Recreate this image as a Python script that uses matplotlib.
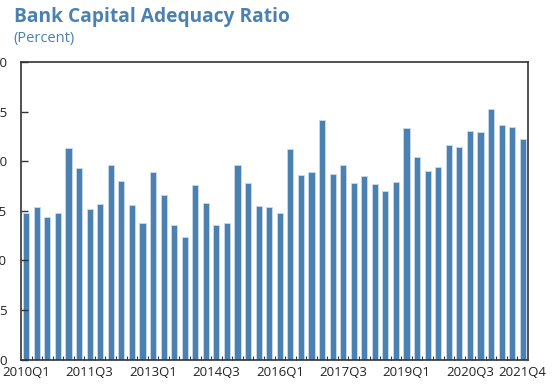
import numpy as np
import matplotlib
matplotlib.use("Agg")
import matplotlib.pyplot as plt
from matplotlib.ticker import FixedLocator

# quarterly capital adequacy ratio, 2010Q1 - 2021Q4
years = list(range(2010, 2022))
quarters = [f"{y}Q{q}" for y in years for q in range(1, 5)]
ratio = [14.8, 15.4, 14.4, 14.8, 21.3, 19.3, 15.2, 15.7, 19.6, 18.0, 15.6, 13.8,
         18.9, 16.6, 13.6, 12.4, 17.6, 15.8, 13.6, 13.8, 19.6, 17.8, 15.5, 15.4,
         14.8, 21.2, 18.6, 18.9, 24.2, 18.7, 19.6, 17.8, 18.5, 17.7, 17.0, 17.9,
         23.3, 20.4, 19.0, 19.4, 21.6, 21.4, 23.0, 22.9, 25.3, 23.6, 23.4, 22.2]
label_idx = [0, 6, 12, 18, 24, 30, 36, 42, 47]
yticks = [0, 5, 10, 15, 20, 25, 30]

blue = "#4a81b1"
plt.rcParams['font.family'] = ['Open Sans', 'DejaVu Sans']

fig = plt.figure(figsize=(5.55, 3.89), dpi=100)
ax = fig.add_axes([0.0378, 0.0758, 0.9136, 0.7648])

x = np.arange(len(ratio))
ax.bar(x, ratio, width=0.58, color=blue, edgecolor="#c9dbec", linewidth=0.6)

ax.set_xlim(-0.5, len(ratio) - 0.5)
ax.set_ylim(0, 30)
ax.set_yticks(yticks)
ax.set_yticklabels([str(v) for v in yticks])
ax.set_xticks(label_idx)
ax.set_xticklabels([quarters[i] for i in label_idx])
ax.xaxis.set_minor_locator(FixedLocator(np.arange(0.5, len(ratio) - 1, 1)))

ax.tick_params(axis='y', direction='in', length=5, width=1, pad=10,
               labelsize=9.5, colors="#333333", labelcolor="#222222")
ax.tick_params(axis='x', which='major', length=0, pad=5, labelsize=9.5,
               labelcolor="#222222")
ax.tick_params(axis='x', which='minor', direction='in', length=3, width=0.8,
               color="#333333")

for s in ax.spines.values():
    s.set_color("#333333")
    s.set_linewidth(1.2)

fig.text(0.025, 0.944, "Bank Capital Adequacy Ratio", fontsize=13.8,
         fontweight='bold', color=blue, va='baseline')
fig.text(0.025, 0.893, "(Percent)", fontsize=10.5, color=blue, va='baseline')

fig.savefig("out.png", dpi=100)
